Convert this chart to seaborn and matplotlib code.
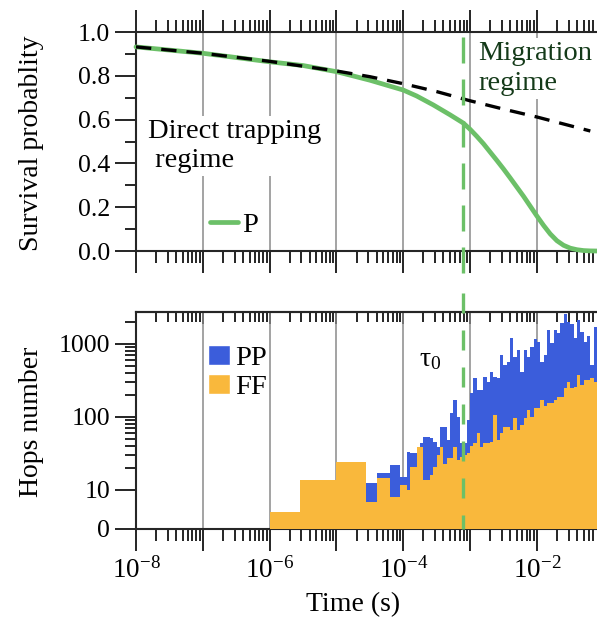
import numpy as np
import pandas as pd
import matplotlib
matplotlib.use("Agg")
import matplotlib.pyplot as plt
import seaborn as sns
from matplotlib import ticker
from matplotlib.lines import Line2D
from matplotlib.patches import Patch

# survival probability, green curve (log10 of time, value)
p_logt = [-8.0, -7.0, -6.0, -5.5, -5.0, -4.5, -4.0, -3.8, -3.55, -3.3, -3.1,
          -3.0, -2.9, -2.8, -2.7, -2.6, -2.5, -2.4, -2.3, -2.2, -2.1, -2.0,
          -1.9, -1.8, -1.7, -1.6, -1.5, -1.4, -1.3, -1.2, -1.1]
p_val = [0.932, 0.903, 0.864, 0.847, 0.819, 0.780, 0.735, 0.708, 0.667, 0.622, 0.584,
         0.556, 0.524, 0.490, 0.452, 0.414, 0.375, 0.334, 0.292, 0.250, 0.205, 0.160,
         0.117, 0.078, 0.047, 0.026, 0.013, 0.006, 0.002, 0.0005, 0.0]

# direct trapping only, black dashed curve
q_logt = [-8.0, -7.0, -6.0, -5.0, -4.5, -4.0, -3.5, -3.0, -2.5, -2.0, -1.2]
q_val = [0.932, 0.903, 0.866, 0.822, 0.796, 0.764, 0.728, 0.686, 0.648, 0.612, 0.548]

tau0_logt = -3.1

# hops histograms: wide early bins, then fine log bins
early_edges_logt = [-6.56, -6.0, -5.545, -5.0, -4.55]
pp_early = [0.3, 3.0, 10.0, 18.0]
ff_early = [0.0, 4.3, 13.7, 24.4]

dense_range_logt = (-4.55, -1.10)
pp_dense = [12.3, 12.3, 12.3, 17, 17, 17, 17, 22, 22, 22,
            15, 15, 33.5, 32, 32, 29, 43.6, 53.6, 53.6, 51,
            45, 39, 74, 74, 49, 112, 171, 101, 44, 44,
            91, 211, 337, 234, 234, 355, 305, 416, 355, 337,
            700, 515, 570, 1220, 670, 830, 416, 830, 670, 900,
            1180, 1070, 570, 700, 1550, 1020, 1550, 1410, 1918, 2600,
            2000, 1900, 1220, 2100, 1480, 1070, 1300, 515, 1700]
ff_dense = [7.0, 7.0, 7.0, 14.7, 14.7, 14.7, 14.7, 8.1, 8.1, 8.1,
            11.7, 11.7, 10.0, 20.8, 20.8, 39.0, 39.0, 13.7, 13.7, 16.0,
            20.8, 30.0, 39.0, 23.0, 27.0, 27.0, 39.0, 26.0, 28.0, 30.0,
            31.8, 40.0, 43.6, 60.0, 39.0, 44.0, 44.0, 46.0, 106.0, 48.0,
            60.0, 74.0, 74.0, 67.0, 96.0, 67.0, 78.0, 96.0, 124.0, 101.0,
            131.0, 131.0, 171.0, 140.0, 154.0, 154.0, 171.0, 189.0, 189.0, 247.0,
            305.0, 247.0, 260.0, 370.0, 275.0, 326.0, 326.0, 340.0, 305.0]

GREEN = "#6cc068"
BLUE = "#3b5ddb"
ORANGE = "#f9b83c"
GRID = "#8a8a8a"

sns.set_theme(style="ticks")
plt.rcParams["font.family"] = ["Liberation Serif", "DejaVu Serif"]
plt.rcParams["mathtext.fontset"] = "custom"
plt.rcParams["mathtext.rm"] = "Liberation Serif"
plt.rcParams["mathtext.it"] = "Liberation Serif:italic"
plt.rcParams["axes.linewidth"] = 1.5
plt.rcParams["text.color"] = "black"
plt.rcParams["axes.labelcolor"] = "black"
plt.rcParams["xtick.color"] = "black"
plt.rcParams["ytick.color"] = "black"

fig = plt.figure(figsize=(5.97, 6.23), dpi=100)
ax1 = fig.add_axes([0.2278, 0.5971, 0.7722, 0.3515])
ax2 = fig.add_axes([0.2278, 0.1509, 0.7722, 0.3483])
xmin, xmax = 1e-8, 10 ** -1.1
tau0 = 10 ** tau0_logt

# ---- top panel
surv = pd.DataFrame({"t": 10 ** np.array(p_logt), "P": p_val})
direct = pd.DataFrame({"t": 10 ** np.array(q_logt), "Q": q_val})
sns.lineplot(data=surv, x="t", y="P", ax=ax1, color=GREEN, lw=3.4,
             clip_on=False, zorder=3)
sns.lineplot(data=direct, x="t", y="Q", ax=ax1, color="black", lw=2.4,
             linestyle=(0, (4.6, 3.0)), zorder=4)
ax1.plot([tau0, tau0], [0.977, -0.137], transform=ax1.get_xaxis_transform(),
         color=GREEN, lw=2.4, dashes=(7.8, 4.8), clip_on=False, zorder=5)

ax1.set_xscale("log")
ax1.set_xlim(xmin, xmax)
ax1.set_ylim(0, 1)
ax1.xaxis.set_major_locator(ticker.FixedLocator(10.0 ** np.arange(-8, 0)))
ax1.xaxis.set_minor_locator(ticker.LogLocator(base=10, subs=np.arange(2, 10), numticks=30))
ax1.xaxis.set_minor_formatter(ticker.NullFormatter())
ax1.tick_params(axis="x", which="both", top=True, bottom=True, direction="out",
                labelbottom=False, width=1.2)
ax1.tick_params(axis="x", which="major", length=15.5)
ax1.tick_params(axis="x", which="minor", length=8.5)
ax1.yaxis.set_major_locator(ticker.MultipleLocator(0.2))
ax1.yaxis.set_minor_locator(ticker.MultipleLocator(0.1))
ax1.yaxis.set_major_formatter(ticker.FormatStrFormatter("%.1f"))
ax1.tick_params(axis="y", which="both", left=True, right=False, direction="out", width=1.2)
ax1.tick_params(axis="y", which="major", length=15, labelsize=18.5, pad=3.5)
ax1.tick_params(axis="y", which="minor", length=8)
ax1.grid(axis="x", which="major", color=GRID, lw=1.1)
ax1.set_axisbelow(True)
ax1.spines["right"].set_visible(False)
ax1.set_xlabel("")
ax1.set_ylabel("Survival probablity", fontsize=20)
ax1.yaxis.set_label_coords(-0.20, 0.49)

ax1.text(10 ** -7.82, 0.48, "Direct trapping\n regime", transform=ax1.get_xaxis_transform(),
         fontsize=20.5, va="center", ha="left", linespacing=1.22, zorder=1.5,
         bbox=dict(facecolor="white", edgecolor="none", pad=2))
ax1.text(10 ** -2.88, 0.833, "Migration\nregime", transform=ax1.get_xaxis_transform(),
         fontsize=20.5, va="center", ha="left", linespacing=1.28, color="#143a19",
         zorder=1.5, bbox=dict(facecolor="white", edgecolor="none", pad=2))
ax1.legend([Line2D([], [], color=GREEN, lw=3.4)], ["P"], loc="center left",
           bbox_to_anchor=(0.1605, 0.119), frameon=False, fontsize=20.5,
           borderpad=0, borderaxespad=0, handlelength=1.0, handletextpad=0.12)

# ---- bottom panel
edges_dense = np.linspace(dense_range_logt[0], dense_range_logt[1], len(pp_dense) + 1)
edges = 10 ** np.concatenate([early_edges_logt[:-1], edges_dense])
pp = np.concatenate([pp_early, pp_dense])
ff = np.concatenate([ff_early, ff_dense])
ax2.stairs(pp, edges, fill=True, color=BLUE, zorder=2)
ax2.stairs(ff, edges, fill=True, color=ORANGE, zorder=3)
ax2.plot([tau0, tau0], [1.0876, 0], transform=ax2.get_xaxis_transform(),
         color=GREEN, lw=2.4, dashes=(6.0, 5.1), clip_on=False, zorder=5)

ax2.set_xscale("log")
ax2.set_xlim(xmin, xmax)
ax2.set_yscale("symlog", linthresh=10, linscale=0.481)
ax2.set_ylim(0, 2742)
ax2.yaxis.set_major_locator(ticker.FixedLocator([0, 10, 100, 1000]))
ax2.yaxis.set_major_formatter(ticker.FuncFormatter(lambda v, p: f"{v:g}"))
ax2.yaxis.set_minor_locator(ticker.FixedLocator(
    [20, 30, 40, 50, 60, 70, 80, 90, 200, 300, 400, 500, 600, 700, 800, 900, 2000]))
ax2.yaxis.set_minor_formatter(ticker.NullFormatter())
ax2.tick_params(axis="y", which="both", left=True, right=False, direction="out", width=1.2)
ax2.tick_params(axis="y", which="major", length=15, labelsize=18.5, pad=3.5)
ax2.tick_params(axis="y", which="minor", length=8)


def decade_label(v, pos):
    e = int(round(np.log10(v)))
    return rf"$10^{{{e}}}$" if e % 2 == 0 else ""


ax2.xaxis.set_major_locator(ticker.FixedLocator(10.0 ** np.arange(-8, 0)))
ax2.xaxis.set_major_formatter(ticker.FuncFormatter(decade_label))
ax2.xaxis.set_minor_locator(ticker.LogLocator(base=10, subs=np.arange(2, 10), numticks=30))
ax2.xaxis.set_minor_formatter(ticker.NullFormatter())
ax2.tick_params(axis="x", which="both", top=False, bottom=True, direction="out", width=1.2)
ax2.tick_params(axis="x", which="major", length=15.5, labelsize=19.5, pad=5)
ax2.tick_params(axis="x", which="minor", length=8.5)

sec = ax2.secondary_xaxis("top")
sec.xaxis.set_major_locator(ticker.FixedLocator(10.0 ** np.arange(-8, 0)))
sec.xaxis.set_minor_locator(ticker.LogLocator(base=10, subs=np.arange(2, 10), numticks=30))
sec.xaxis.set_major_formatter(ticker.NullFormatter())
sec.xaxis.set_minor_formatter(ticker.NullFormatter())
sec.tick_params(axis="x", which="both", direction="in", width=1.2)
sec.tick_params(axis="x", which="major", length=8.5)
sec.tick_params(axis="x", which="minor", length=7)

ax2.grid(axis="x", which="major", color=GRID, lw=1.1)
ax2.set_axisbelow(True)
ax2.spines["right"].set_visible(False)
ax2.set_xlabel("Time (s)", fontsize=20)
ax2.xaxis.set_label_coords(0.47, -0.29)
ax2.set_ylabel("Hops number", fontsize=20)
ax2.yaxis.set_label_coords(-0.20, 0.494)

ax2.text(10 ** -3.6, 0.779, r"$\mathrm{\tau_0}$", transform=ax2.get_xaxis_transform(),
         fontsize=20, ha="center", va="center")
ax2.legend([Patch(facecolor=BLUE), Patch(facecolor=ORANGE)], ["PP", "FF"],
           loc="upper left", bbox_to_anchor=(0.156, 0.848), frameon=False,
           fontsize=20.5, borderpad=0, borderaxespad=0, handlelength=0.79,
           handleheight=0.72, handletextpad=0.18, labelspacing=0.1)

fig.savefig("out.png", dpi=100)
